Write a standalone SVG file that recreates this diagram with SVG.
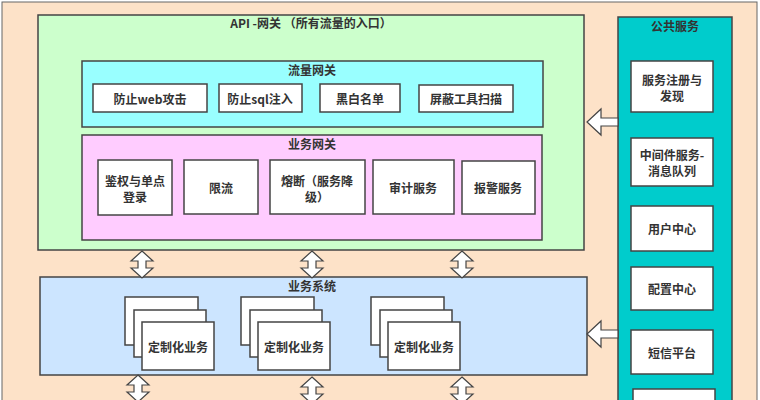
<svg xmlns="http://www.w3.org/2000/svg" width="760" height="400" viewBox="0 0 760 400">
<style>
text{font-family:"Noto Sans CJK SC","Liberation Sans",sans-serif;font-size:12px;font-weight:bold;fill:#333;text-anchor:middle;dominant-baseline:central}
.b{fill:#fff;stroke:#444;stroke-width:1.5}
.c{stroke:#444;stroke-width:1.5}
.ar{fill:#fff;stroke:#444;stroke-width:1.2}
</style>
<rect x="2" y="2" width="755" height="410" fill="#FDE2C8" stroke="#666" stroke-width="1"/>
<g id="api"><rect x="38" y="15" width="546" height="235" fill="#CCFFCC" class="c"/><text x="311" y="22">API -网关 （所有流量的入口）</text></g>
<g id="traffic"><rect x="82" y="61" width="461" height="66" fill="#99FFFF" class="c"/><text x="312" y="69">流量网关</text>
<rect class="b" x="93" y="84" width="114" height="28"/><text x="150" y="98">防止web攻击</text>
<rect class="b" x="219" y="84" width="83" height="28"/><text x="260" y="98">防止sql注入</text>
<rect class="b" x="320" y="84" width="80" height="28"/><text x="360" y="98">黑白名单</text>
<rect class="b" x="419" y="85" width="94" height="27"/><text x="466" y="98">屏蔽工具扫描</text></g>
<g id="biz-gw"><rect x="82" y="135" width="460" height="105" fill="#FFCCFF" class="c"/><text x="312" y="143">业务网关</text>
<rect class="b" x="98" y="160" width="74" height="55"/><text x="135" y="180">鉴权与单点</text><text x="135" y="196">登录</text>
<rect class="b" x="184" y="160" width="74" height="54"/><text x="221" y="187">限流</text>
<rect class="b" x="270" y="160" width="95" height="54"/><text x="317" y="180">熔断（服务降</text><text x="317" y="196">级）</text>
<rect class="b" x="373" y="160" width="81" height="54"/><text x="413" y="187">审计服务</text>
<rect class="b" x="462" y="161" width="73" height="53"/><text x="498" y="187">报警服务</text></g>
<g id="system"><rect x="40" y="277" width="547" height="98" fill="#CCE5FF" class="c"/><text x="312" y="285">业务系统</text></g>
<g id="stack1"><rect class="b" x="125" y="297" width="73" height="48"/><rect class="b" x="134" y="310" width="72" height="47"/><rect class="b" x="142" y="322" width="72" height="48"/><text x="178" y="346">定制化业务</text></g>
<g id="stack2"><rect class="b" x="241" y="297" width="73" height="48"/><rect class="b" x="250" y="310" width="72" height="47"/><rect class="b" x="258" y="322" width="72" height="48"/><text x="294" y="346">定制化业务</text></g>
<g id="stack3"><rect class="b" x="371" y="297" width="73" height="48"/><rect class="b" x="380" y="310" width="72" height="47"/><rect class="b" x="388" y="322" width="72" height="48"/><text x="424" y="346">定制化业务</text></g>
<g id="public"><rect x="618" y="17" width="114" height="400" fill="#00CCCC" class="c"/><text x="675" y="25">公共服务</text>
<rect class="b" x="631" y="61" width="82" height="51"/><text x="672" y="79">服务注册与</text><text x="672" y="95">发现</text>
<rect class="b" x="631" y="138" width="82" height="48"/><text x="672" y="154">中间件服务-</text><text x="672" y="170">消息队列</text>
<rect class="b" x="631" y="206" width="82" height="45"/><text x="672" y="228">用户中心</text>
<rect class="b" x="631" y="267" width="82" height="43"/><text x="672" y="288">配置中心</text>
<rect class="b" x="631" y="330" width="82" height="44"/><text x="672" y="352">短信平台</text>
<rect class="b" x="633" y="389" width="82" height="30"/></g>
<g id="connectors">
<path class="ar" d="M618,118 H601 V109 L587,122 L601,135 V126 H618 Z"/>
<path class="ar" d="M618,330 H601 V321 L587,334 L601,347 V338 H618 Z"/>
<g id="dbl">
<path class="ar" d="M142,251 L153,261 H146 V268 H153 L142,278 L131,268 H138 V261 H131 Z"/>
<path class="ar" d="M312,251 L323,261 H316 V268 H323 L312,278 L301,268 H308 V261 H301 Z"/>
<path class="ar" d="M462,251 L473,261 H466 V268 H473 L462,278 L451,268 H458 V261 H451 Z"/>
<path class="ar" d="M138,375 L149,385 H142 V392 H149 L138,402 L127,392 H134 V385 H127 Z"/>
<path class="ar" d="M312,377 L323,387 H316 V394 H323 L312,404 L301,394 H308 V387 H301 Z"/>
<path class="ar" d="M462,377 L473,387 H466 V394 H473 L462,404 L451,394 H458 V387 H451 Z"/>
</g></g>
</svg>
